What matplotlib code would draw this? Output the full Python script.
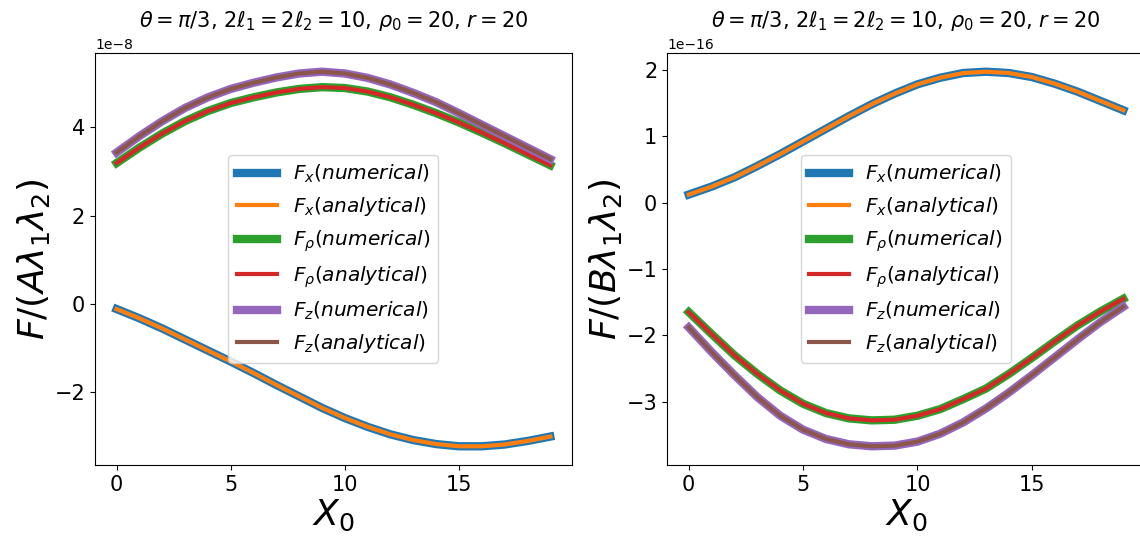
import matplotlib.pyplot as plt
import numpy as np

X0 = np.arange(0, 20)

# left panel, units of 1e-8
left_fx = [-0.12, -0.33, -0.56, -0.81, -1.06, -1.31, -1.57, -1.84, -2.10, -2.36,
           -2.59, -2.79, -2.96, -3.09, -3.18, -3.23, -3.23, -3.19, -3.11, -3.01]
left_frho = [3.19, 3.54, 3.86, 4.14, 4.37, 4.55, 4.68, 4.79, 4.87, 4.91,
             4.89, 4.81, 4.68, 4.51, 4.32, 4.11, 3.88, 3.64, 3.39, 3.14]
left_fz = [3.43, 3.80, 4.14, 4.44, 4.68, 4.87, 5.01, 5.13, 5.22, 5.26,
           5.22, 5.12, 4.97, 4.78, 4.57, 4.32, 4.06, 3.80, 3.54, 3.28]

# right panel, units of 1e-16
right_fx = [0.12, 0.24, 0.38, 0.55, 0.73, 0.92, 1.11, 1.30, 1.48, 1.64,
            1.78, 1.88, 1.95, 1.97, 1.95, 1.89, 1.79, 1.67, 1.53, 1.39]
right_frho = [-1.65, -1.98, -2.30, -2.58, -2.83, -3.03, -3.17, -3.25, -3.28, -3.27,
              -3.21, -3.11, -2.96, -2.80, -2.58, -2.34, -2.09, -1.85, -1.64, -1.45]
right_fz = [-1.88, -2.25, -2.60, -2.93, -3.21, -3.42, -3.56, -3.64, -3.67, -3.66,
            -3.60, -3.48, -3.31, -3.10, -2.86, -2.60, -2.33, -2.06, -1.80, -1.57]

title = r'$\theta=\pi/3$, $2\ell_1=2\ell_2=10$, $\rho_0=20$, $r=20$'

fig = plt.figure(figsize=(11.4, 5.44), dpi=100)
ax1 = fig.add_axes([0.0833, 0.1452, 0.4184, 0.7574])
ax2 = fig.add_axes([0.5851, 0.1452, 0.4193, 0.7574])


def draw(ax, fx, frho, fz, scale, ylab):
    fx = np.array(fx) * scale
    frho = np.array(frho) * scale
    fz = np.array(fz) * scale
    ax.plot(X0, fx, color='C0', lw=6, label=r'$F_x(numerical)$')
    ax.plot(X0, fx, color='C1', lw=3, label=r'$F_x(analytical)$')
    ax.plot(X0, frho, color='C2', lw=6, label=r'$F_\rho(numerical)$')
    ax.plot(X0, frho, color='C3', lw=3, label=r'$F_\rho(analytical)$')
    ax.plot(X0, fz, color='C4', lw=6, label=r'$F_z(numerical)$')
    ax.plot(X0, fz, color='C5', lw=3, label=r'$F_z(analytical)$')
    ax.set_xlabel(r'$X_0$', fontsize=26, labelpad=2)
    ax.set_ylabel(ylab, fontsize=26, labelpad=2)
    ax.set_title(title, fontsize=15, pad=19)
    ax.tick_params(axis='both', labelsize=15)
    ax.legend(loc='center', fontsize=14.5)


draw(ax1, left_fx, left_frho, left_fz, 1e-8, r'$F/(A\lambda_1\lambda_2)$')
draw(ax2, right_fx, right_frho, right_fz, 1e-16, r'$F/(B\lambda_1\lambda_2)$')

plt.savefig('out.png', dpi=100)
